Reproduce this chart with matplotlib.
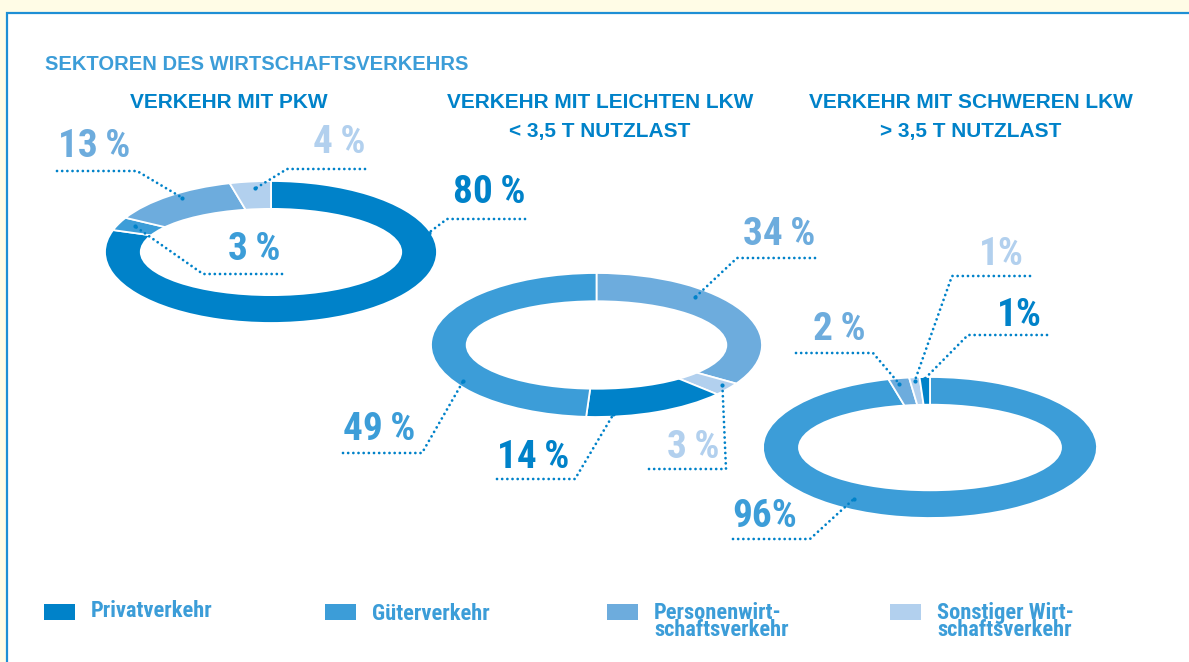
import os
import numpy as np
import matplotlib.pyplot as plt
from matplotlib import font_manager as fm
from matplotlib.patches import Ellipse, Rectangle

# ---------------- Daten ----------------
kategorien = ["Privatverkehr", "Güterverkehr",
              "Personenwirtschaftsverkehr", "Sonstiger Wirtschaftsverkehr"]
legende = ["Privatverkehr", "Güterverkehr",
           "Personenwirt-\nschaftsverkehr", "Sonstiger Wirt-\nschaftsverkehr"]
titel = "SEKTOREN DES WIRTSCHAFTSVERKEHRS"
diagramm_titel = ["VERKEHR MIT PKW",
                  "VERKEHR MIT LEICHTEN LKW\n< 3,5 T NUTZLAST",
                  "VERKEHR MIT SCHWEREN LKW\n> 3,5 T NUTZLAST"]

# Anteile in %: Privat, Güter, Personen, Sonstiger
pkw = [80, 3, 13, 4]
lkw_leicht = [14, 49, 34, 3]
lkw_schwer = [1, 96, 2, 1]
werte = [pkw, lkw_leicht, lkw_schwer]

# ---------------- Stil / Layout ----------------
W, H = 1189, 662
FARBEN = ["#0082C9", "#3C9DD8", "#6DACDD", "#B2D0EE"]
DUNKEL = "#0082C9"
HELL = "#3C9DD8"
GELB = "#FFFCE6"
WIDE = ["Liberation Sans", "DejaVu Sans"]

# Ring-Bounding-Box in Pixel (x0, x1, y0, y1), Reihenfolge im Uhrzeigersinn ab 12 Uhr
ringe = [(105, 437, 181, 323), (431, 762, 273, 417), (763, 1097, 377, 518)]
reihenfolge = [[0, 1, 2, 3], [2, 3, 0, 1], [1, 2, 3, 0]]
loch = (0.79, 0.62)
titel_x = [229, 600, 971]

# Beschriftung je Kategorie: Text (x, Basislinie), Unterstrich (x0, x1, y),
# Knick ('l'/'r'), Ankerpunkt im Ring (Winkel, Radius), ohne Leerzeichen vor %
labels = [
    {0: (453, 203, 447, 525, 219, "l", 16, 0.99, False),
     1: (228, 260, 203, 282, 274, "l", 156, 0.90, False),
     2: (58, 157, 57, 137, 171, "r", 125, 0.93, False),
     3: (313, 153, 287, 365, 169, "l", 96, 0.90, False)},
    {0: (497, 468, 497, 575, 479, "r", -84, 0.97, False),
     1: (343, 440, 343, 422, 453, "r", 212, 0.95, False),
     2: (743, 245, 737, 815, 258, "l", 48, 0.89, False),
     3: (667, 458, 649, 726, 469, "r", -36, 0.94, False)},
    {0: (997, 326, 968, 1047, 335, "l", 92, 0.97, True),
     1: (732, 527, 733, 810, 539, "r", 238, 0.86, True),
     2: (813, 340, 796, 873, 353, "r", 101.5, 0.92, False),
     3: (979, 265, 952, 1030, 276, "l", 95.5, 0.95, True)},
]

leg_x = [44, 325, 607, 890]


# ---------------- helpers ----------------
def schmale_schrift():
    """fette, schmale Schrift suchen (Narrow/Condensed), sonst Liberation Sans Bold"""
    prio = ["liberation sans narrow", "roboto condensed", "noto sans condensed",
            "dejavu sans condensed", "open sans condensed", "noto sans", "dejavu sans",
            "roboto", "open sans"]
    treffer = []
    for f in fm.fontManager.ttflist:
        fn = os.path.basename(f.fname).lower()
        nm = f.name.lower()
        schmal = ("narrow" in fn or "condensed" in fn or "narrow" in nm
                  or f.stretch == "condensed")
        if not schmal or "semi" in fn or "extra" in fn or "ultra" in fn:
            continue
        if "italic" in fn or "oblique" in fn or f.style != "normal":
            continue
        w = f.weight if isinstance(f.weight, int) else (700 if "bold" in str(f.weight) else 400)
        if w < 700 and "bold" not in fn:
            continue
        if "extrabold" in fn or "black" in fn:
            continue
        rang = len(prio)
        for i, p in enumerate(prio):
            if nm.startswith(p) or fn.replace("-", " ").startswith(p.replace(" ", "")):
                rang = i
                break
        treffer.append((rang, f.fname))
    if treffer:
        treffer.sort()
        return fm.FontProperties(fname=treffer[0][1])
    return fm.FontProperties(family=WIDE, weight="bold")


def px_rect(x0, x1, y0, y1):
    return [x0 / W, 1 - y1 / H, (x1 - x0) / W, (y1 - y0) / H]


def passende_groesse(fig, fp, text, groesse, breite, max_gr):
    # Schriftgroesse so waehlen, dass der Mustertext die Zielbreite hat
    t = fig.text(0, 0, text, fontproperties=fp, fontsize=groesse)
    w = t.get_window_extent(fig.canvas.get_renderer()).width
    t.remove()
    return min(max_gr, groesse * breite / w)


fig = plt.figure(figsize=(W / 100, H / 100), dpi=100)
fig.patch.set_facecolor(GELB)

SCHMAL = schmale_schrift()
gr_prozent = passende_groesse(fig, SCHMAL, "96%", 26, 65, 30)
gr_legende = passende_groesse(fig, SCHMAL, "Privatverkehr", 16, 122, 17)

bg = fig.add_axes([0, 0, 1, 1])
bg.set_xlim(0, W); bg.set_ylim(H, 0); bg.axis("off")
bg.add_patch(Rectangle((7, 13), W, H, fc="white", ec="#1E8FD5", lw=1.6))

# ---------------- Ringe ----------------
pie_axes = []
for k, (vals, box, order) in enumerate(zip(werte, ringe, reihenfolge)):
    pax = fig.add_axes(px_rect(*box))
    pax.pie([vals[i] for i in order], colors=[FARBEN[i] for i in order],
            startangle=90, counterclock=False,
            wedgeprops=dict(edgecolor="white", linewidth=1.3))
    pax.set_aspect("auto")
    pax.set_xlim(-1, 1); pax.set_ylim(-1, 1)
    pax.add_patch(Ellipse((0, 0), 2 * loch[0], 2 * loch[1], fc="white", ec="none"))
    pax.axis("off")
    pie_axes.append(pax)

# Overlay fuer Texte und Hinweislinien
ov = fig.add_axes([0, 0, 1, 1])
ov.set_xlim(0, W); ov.set_ylim(H, 0); ov.axis("off")
ov.patch.set_alpha(0)

ov.text(45, 70, titel, color=HELL, fontsize=14.5, fontweight="bold",
        family=WIDE, va="baseline", ha="left")

for k, t in enumerate(diagramm_titel):
    for j, zeile in enumerate(t.split("\n")):
        ov.text(titel_x[k], 108 + 29 * j, zeile, color=DUNKEL, fontsize=15,
                fontweight="bold", family=WIDE, ha="center", va="baseline")

for k, vals in enumerate(werte):
    pax = pie_axes[k]
    for cat, (tx, ty, ux0, ux1, uy, knick, ang, r, eng) in labels[k].items():
        a = np.deg2rad(ang)
        p = pax.transData.transform((r * np.cos(a), r * np.sin(a)))
        axp, ayp = ov.transData.inverted().transform(p)
        if knick == "l":
            xs, ys = [ux1, ux0, axp], [uy, uy, ayp]
        else:
            xs, ys = [ux0, ux1, axp], [uy, uy, ayp]
        ov.plot(xs, ys, color=DUNKEL, lw=2.0, linestyle=(0, (0.01, 1.85)),
                dash_capstyle="round")
        ov.plot(axp, ayp, "o", ms=3.0, color=DUNKEL, mew=0)
        s = f"{vals[cat]}%" if eng else f"{vals[cat]}\u2009%"
        ov.text(tx, ty, s, color=FARBEN[cat], fontproperties=SCHMAL,
                fontsize=gr_prozent, ha="left", va="baseline")

# ---------------- Legende ----------------
for i, lab in enumerate(legende):
    ov.add_patch(Rectangle((leg_x[i], 604), 31, 16, fc=FARBEN[i], ec="none"))
    n = lab.count("\n")
    base = (620 if i == 1 else 617) + 19.5 * n   # Basislinie der letzten Zeile
    ov.text(leg_x[i] + 47, base, lab, color=HELL, fontproperties=SCHMAL,
            fontsize=gr_legende, ha="left", va="baseline", linespacing=0.74)

fig.savefig("out.png", dpi=100, facecolor=fig.get_facecolor())
